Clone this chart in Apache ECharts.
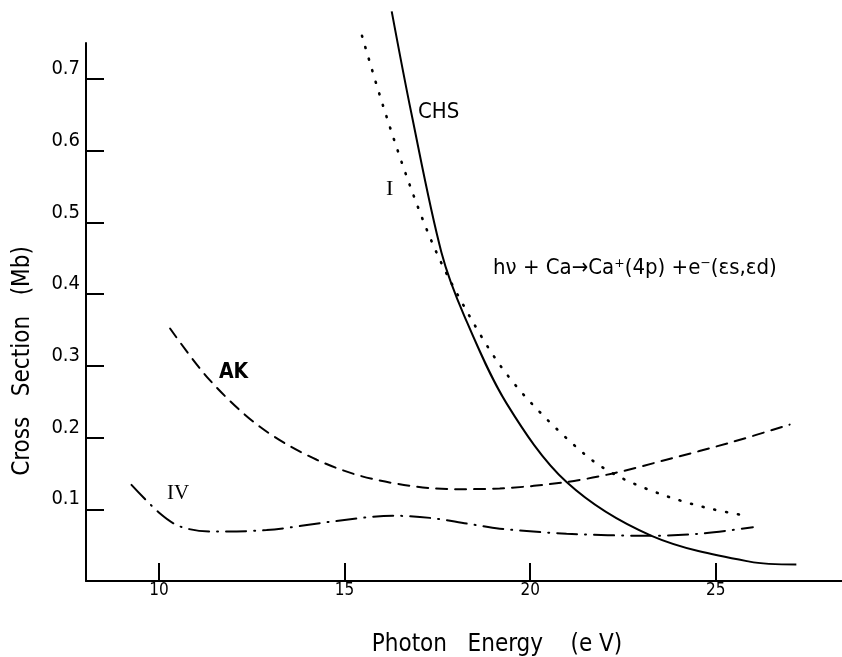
<!DOCTYPE html>
<html>
<head>
<meta charset="utf-8">
<script src="https://cdn.jsdelivr.net/npm/echarts@6/dist/echarts.min.js"></script>
<style>
  html, body { margin: 0; padding: 0; background: #fff; }
  #main { width: 842px; height: 657px; }
</style>
</head>
<body>
<div id="main"></div>
<script>
// photon energy (eV) / cross section (Mb)
var chsX = [16.27, 16.80, 17.61, 18.23, 19.36, 20.98, 23.27, 25.91, 27.17];
var chsY = [0.794, 0.652, 0.458, 0.369, 0.248, 0.138, 0.063, 0.027, 0.023];

var iX = [15.47, 16.04, 16.77, 17.52, 18.37, 19.20, 20.12, 21.53, 22.41, 23.58, 24.75, 25.82];
var iY = [0.760, 0.662, 0.550, 0.453, 0.369, 0.300, 0.243, 0.174, 0.145, 0.120, 0.102, 0.091];

var akX = [10.30, 11.37, 12.72, 14.25, 15.86, 17.97, 19.18, 20.98, 22.23, 23.67, 25.46, 26.99];
var akY = [0.352, 0.280, 0.215, 0.169, 0.141, 0.128, 0.129, 0.138, 0.150, 0.169, 0.194, 0.218];

var ivX = [9.26, 10.03, 10.57, 11.37, 12.90, 14.69, 16.30, 17.30, 18.30, 19.18, 20.98, 23.22, 24.57, 26.00];
var ivY = [0.134, 0.094, 0.076, 0.069, 0.071, 0.083, 0.091, 0.088, 0.080, 0.073, 0.066, 0.063, 0.066, 0.075];

var xTicks = [10, 15, 20, 25];
var yTicks = [0.1, 0.2, 0.3, 0.4, 0.5, 0.6, 0.7];

var FONT = '"Liberation Sans Narrow", "DejaVu Sans Condensed", "Liberation Sans", sans-serif';

function pairs(xs, ys) {
  return xs.map(function (x, i) { return [x, ys[i]]; });
}

function curve(name, xs, ys, dash, w) {
  return {
    name: name,
    type: 'line',
    data: pairs(xs, ys),
    smooth: 0.33,
    symbol: 'none',
    clip: false,
    lineStyle: { color: '#000', width: w, type: dash, cap: dash === 'solid' ? 'butt' : 'round' }
  };
}

var chart = echarts.init(document.getElementById('main'));

var option = {
  animation: false,
  backgroundColor: '#fff',
  grid: { left: 86, right: 0, top: 43, bottom: 76 },
  xAxis: {
    type: 'value',
    min: 8.035,
    max: 28.4,
    axisLine: { lineStyle: { color: '#000', width: 2 } },
    axisTick: { inside: true, length: 18, customValues: xTicks, lineStyle: { color: '#000', width: 2 } },
    axisLabel: { customValues: xTicks, margin: 1, color: '#000', fontSize: 17, fontFamily: FONT },
    splitLine: { show: false }
  },
  yAxis: {
    type: 'value',
    min: 0,
    max: 0.75,
    axisLine: { show: true, lineStyle: { color: '#000', width: 2 } },
    axisTick: { show: true, inside: true, length: 18, customValues: yTicks, lineStyle: { color: '#000', width: 2 } },
    axisLabel: {
      customValues: yTicks, margin: 6, color: '#000', fontSize: 20, fontFamily: FONT,
      verticalAlign: 'bottom',
      formatter: function (v) { return v.toFixed(1); }
    },
    splitLine: { show: false }
  },
  series: [
    curve('CHS', chsX, chsY, 'solid', 2),
    curve('I', iX, iY, [1, 11], 2.6),
    curve('AK', akX, akY, [11, 8], 2),
    curve('IV', ivX, ivY, [20, 8, 1, 8], 2)
  ],
  graphic: [
    { type: 'text', style: { x: 418, y: 112, text: 'CHS', font: '22px ' + FONT, fill: '#000', verticalAlign: 'middle' } },
    { type: 'text', style: { x: 386, y: 189, text: 'I', font: '22px "Liberation Serif", serif', fill: '#000', verticalAlign: 'middle' } },
    { type: 'text', style: { x: 219, y: 373, text: 'AK', font: 'bold 21px ' + FONT, fill: '#000', verticalAlign: 'middle' } },
    { type: 'text', style: { x: 167, y: 493, text: 'IV', font: '21px "Liberation Serif", serif', fill: '#000', verticalAlign: 'middle' } },
    { type: 'text', style: { x: 493, y: 268, text: 'h\u03bd + Ca\u2192Ca\u207a(4p) +e\u207b(\u03b5s,\u03b5d)', font: '22px ' + FONT, fill: '#000', verticalAlign: 'middle' } },
    { type: 'text', style: { x: 497, y: 645, text: 'Photon   Energy    (e V)', font: '24px ' + FONT, fill: '#000', align: 'center', verticalAlign: 'middle' } },
    { type: 'text', rotation: Math.PI / 2, x: 23, y: 361, style: { x: 0, y: 0, text: 'Cross   Section   (Mb)', font: '24px ' + FONT, fill: '#000', align: 'center', verticalAlign: 'middle' } }
  ]
};

chart.setOption(option);
</script>
</body>
</html>
